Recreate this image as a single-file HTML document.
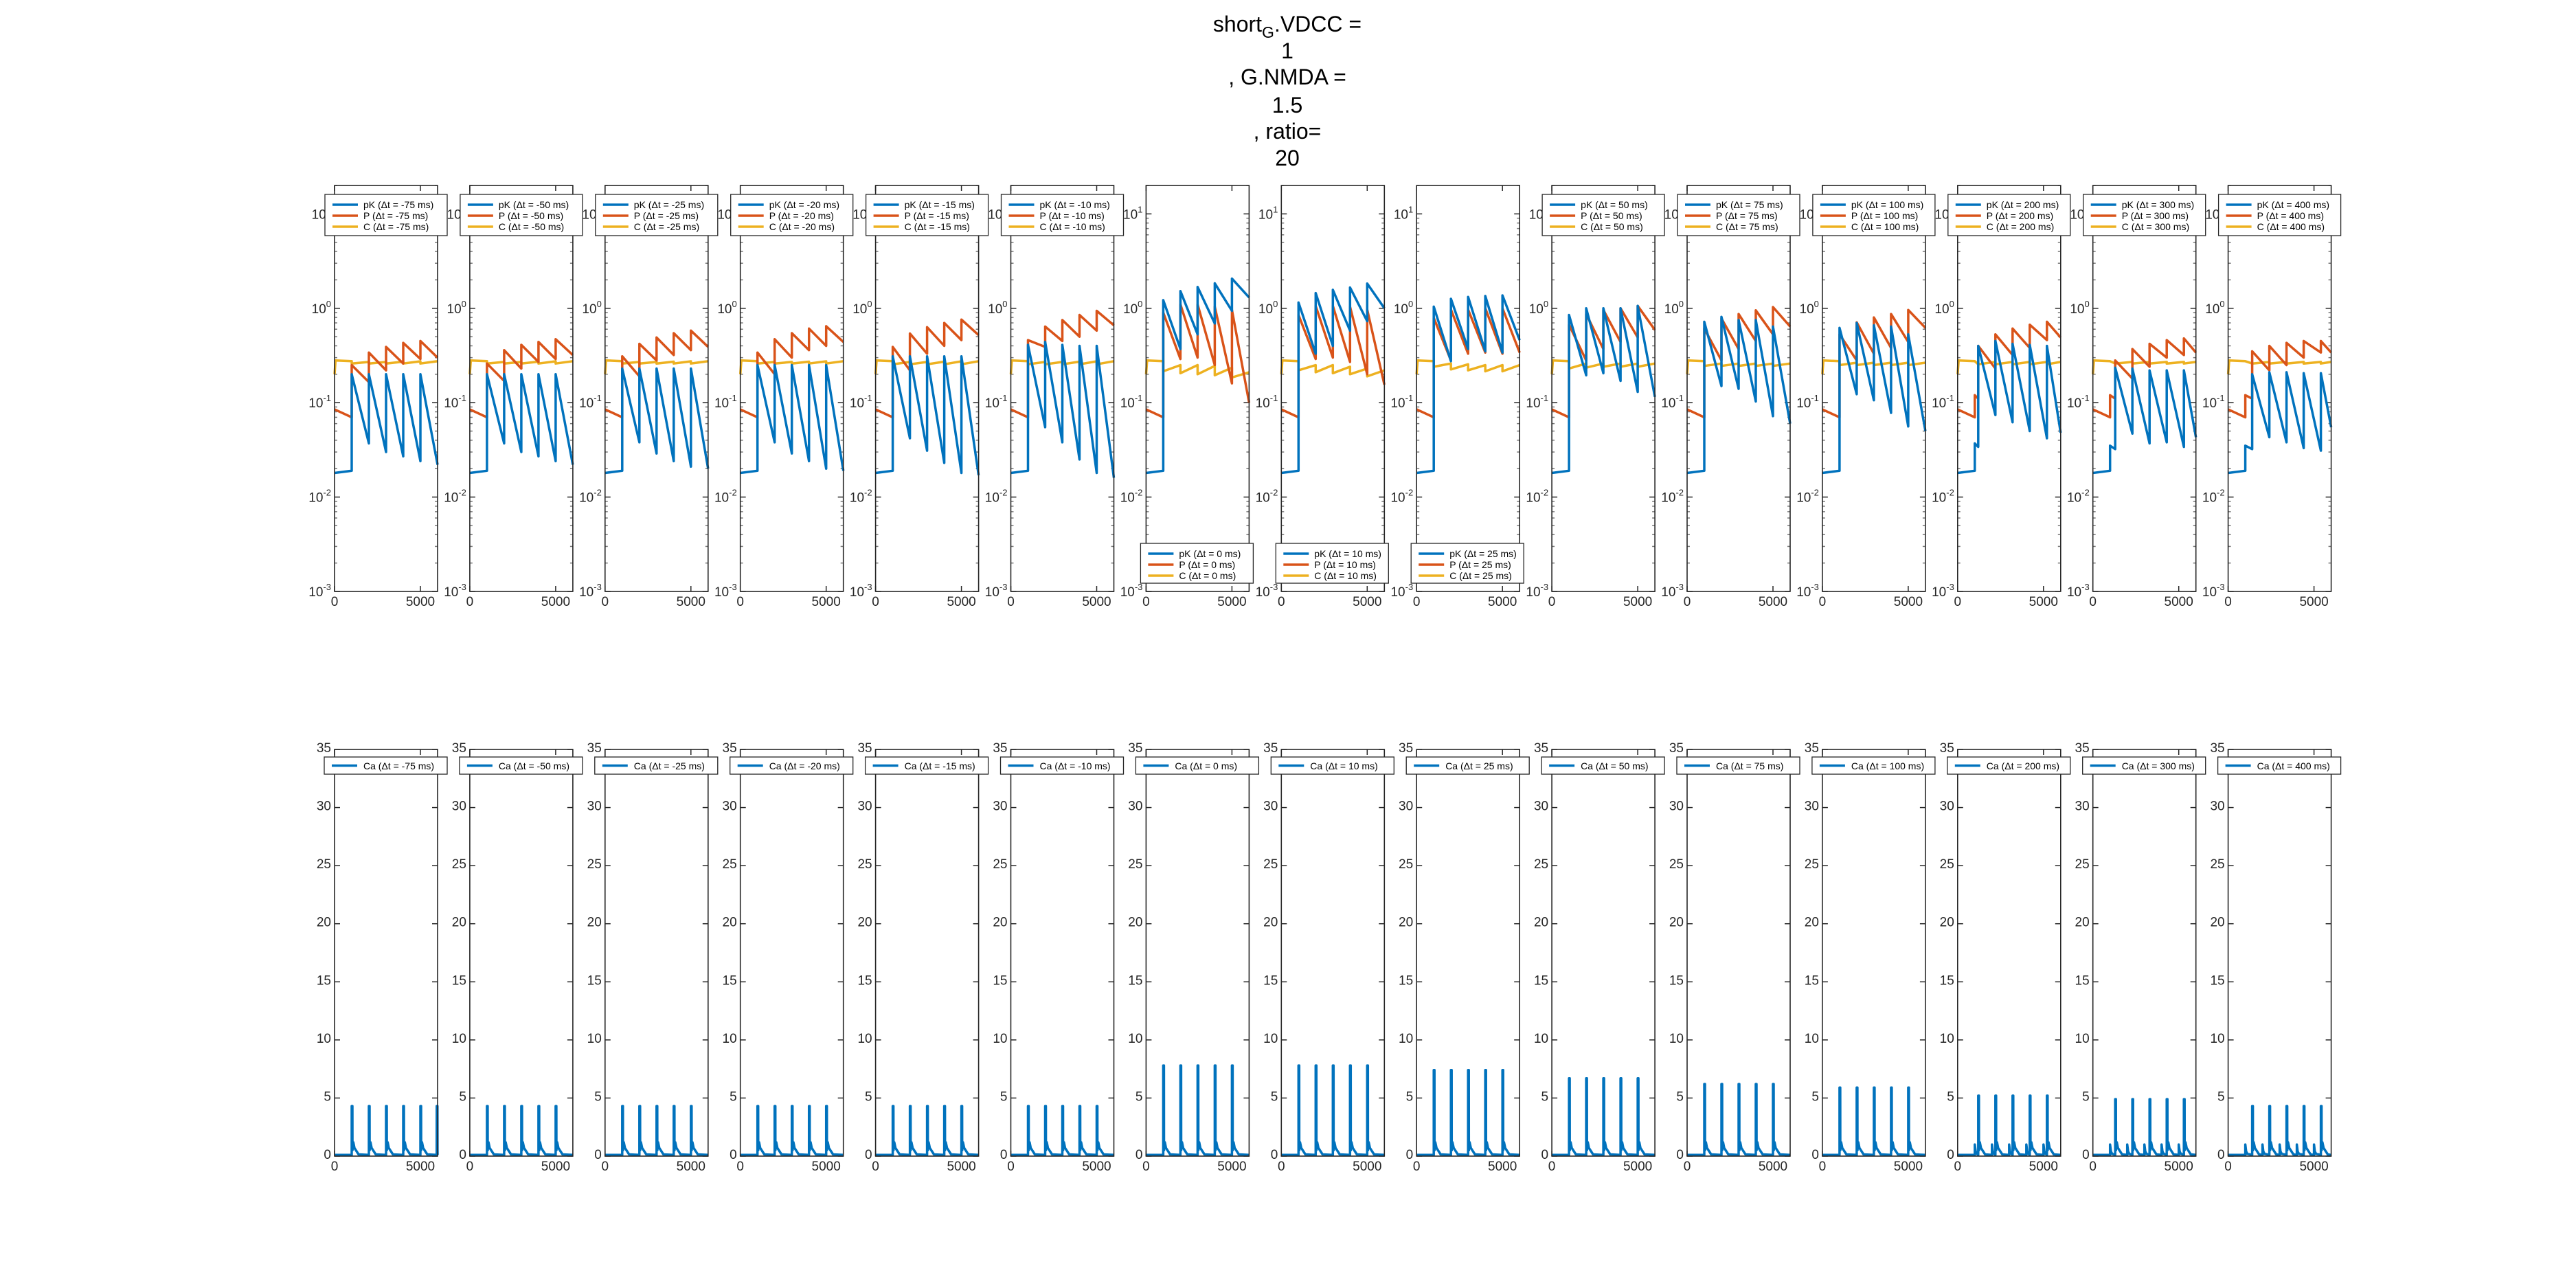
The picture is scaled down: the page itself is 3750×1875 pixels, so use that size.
<!DOCTYPE html>
<html><head><meta charset="utf-8"><style>
html,body{margin:0;padding:0;background:#fff}
svg{display:block;font-family:"Liberation Sans",Arial,sans-serif}
</style></head><body>
<svg id="fig" width="3750" height="1875" viewBox="0 0 3750 1875" xmlns="http://www.w3.org/2000/svg">
<rect width="3750" height="1875" fill="#fff"/>
<g font-size="32" fill="#000" text-anchor="middle">
<text x="1874" y="46">short<tspan font-size="23" dy="9">G</tspan><tspan dy="-9">.VDCC =</tspan></text>
<text x="1874" y="85">1</text>
<text x="1874" y="123">, G.NMDA =</text>
<text x="1874" y="164">1.5</text>
<text x="1874" y="202">, ratio=</text>
<text x="1874" y="241">20</text>
</g>
</svg>
<script>
const dts = [-75,-50,-25,-20,-15,-10,0,10,25,50,75,100,200,300,400];
const offsets = [0,0,0,0,0,0,0,0,0,0,0,0,200,300,400];
const pkPeak = [
 [0.2,0.2,0.2,0.2,0.2],[0.2,0.2,0.2,0.2,0.2],[0.23,0.23,0.23,0.23,0.23],[0.25,0.25,0.25,0.25,0.25],
 [0.31,0.31,0.31,0.31,0.31],[0.41,0.44,0.41,0.4,0.4],[1.22,1.52,1.68,1.84,2.06],[1.15,1.45,1.57,1.66,1.83],
 [1.04,1.26,1.32,1.35,1.37],[0.85,1.0,1.0,1.0,1.06],[0.72,0.81,0.75,0.75,0.64],[0.62,0.7,0.66,0.64,0.53],
 [0.4,0.45,0.42,0.41,0.4],[0.235,0.23,0.22,0.22,0.22],[0.2,0.21,0.21,0.205,0.205]];
const pkTrough = [
 [0.037,0.03,0.027,0.024,0.022],[0.037,0.03,0.027,0.024,0.022],[0.038,0.029,0.024,0.021,0.02],[0.038,0.029,0.024,0.02,0.019],
 [0.042,0.031,0.023,0.018,0.017],[0.055,0.038,0.025,0.018,0.016],[0.37,0.53,0.69,0.94,1.3],[0.33,0.4,0.58,0.73,1.0],
 [0.275,0.37,0.35,0.34,0.46],[0.195,0.205,0.17,0.13,0.115],[0.15,0.14,0.103,0.072,0.06],[0.123,0.106,0.078,0.056,0.05],
 [0.074,0.062,0.05,0.042,0.048],[0.047,0.037,0.038,0.034,0.043],[0.043,0.038,0.033,0.031,0.055]];
const pPeak = [
 [0.25,0.34,0.39,0.43,0.45],[0.26,0.36,0.41,0.44,0.47],[0.31,0.42,0.49,0.545,0.58],[0.34,0.47,0.545,0.61,0.645],
 [0.39,0.54,0.63,0.7,0.76],[0.46,0.64,0.75,0.85,0.94],[0.9,1.1,1.1,1.04,0.96],[0.85,1.06,1.06,1.04,0.97],
 [0.79,0.97,0.97,1.0,1.0],[0.67,0.87,0.96,1.0,1.06],[0.61,0.78,0.87,0.95,1.03],[0.53,0.71,0.8,0.87,0.96],
 [0.4,0.53,0.61,0.67,0.72],[0.28,0.37,0.42,0.46,0.48],[0.35,0.4,0.43,0.45,0.45]];
const pTrough = [
 [0.165,0.22,0.26,0.29,0.3],[0.17,0.23,0.27,0.29,0.32],[0.19,0.28,0.32,0.36,0.39],[0.2,0.3,0.36,0.4,0.44],
 [0.22,0.33,0.4,0.46,0.52],[0.39,0.45,0.5,0.58,0.66],[0.29,0.3,0.25,0.16,0.1],[0.29,0.3,0.27,0.2,0.155],
 [0.28,0.33,0.34,0.33,0.34],[0.28,0.37,0.44,0.49,0.59],[0.28,0.37,0.45,0.53,0.64],[0.28,0.33,0.38,0.44,0.62],
 [0.23,0.32,0.38,0.46,0.49],[0.18,0.24,0.3,0.32,0.34],[0.22,0.25,0.3,0.34,0.34]];
const cPost = [
 [0.26,0.26,0.26,0.26,0.26],[0.26,0.26,0.26,0.26,0.26],[0.26,0.26,0.26,0.26,0.26],[0.26,0.26,0.26,0.26,0.26],
 [0.255,0.255,0.255,0.255,0.255],[0.255,0.255,0.255,0.255,0.255],[0.215,0.205,0.2,0.195,0.185],[0.22,0.21,0.205,0.2,0.19],
 [0.24,0.225,0.22,0.215,0.215],[0.23,0.235,0.24,0.24,0.24],[0.245,0.245,0.245,0.245,0.245],[0.25,0.25,0.25,0.25,0.25],
 [0.255,0.255,0.255,0.255,0.255],[0.26,0.26,0.26,0.26,0.26],[0.26,0.26,0.26,0.26,0.26]];
const cEnd = [
 [0.27,0.27,0.272,0.274,0.275],[0.27,0.27,0.272,0.274,0.275],[0.27,0.27,0.272,0.274,0.275],[0.27,0.27,0.272,0.274,0.275],
 [0.27,0.27,0.272,0.274,0.275],[0.27,0.27,0.272,0.274,0.275],[0.25,0.25,0.245,0.235,0.21],[0.25,0.25,0.24,0.23,0.22],
 [0.26,0.255,0.25,0.25,0.25],[0.26,0.26,0.26,0.26,0.26],[0.26,0.26,0.26,0.26,0.26],[0.265,0.265,0.265,0.265,0.265],
 [0.27,0.27,0.27,0.27,0.27],[0.27,0.27,0.27,0.27,0.27],[0.27,0.27,0.27,0.27,0.27]];
const pkBump = [0,0,0,0,0,0,0,0,0,0,0,0,0.037,0.035,0.035];
const pBump = [0,0,0,0,0,0,0,0,0,0,0,0,0.12,0.12,0.12];
const caPeak = [4.3,4.3,4.3,4.3,4.3,4.3,7.8,7.8,7.4,6.7,6.2,5.9,5.2,4.9,4.3];
const caPreBump = [0,0,0,0,0,0,0,0,0,0,0,0,1.0,1.0,1.0];
const caExtraEnd = [true,false,false,false,false,false,false,false,false,false,false,false,false,false,false];
const pkStart = [0.018,0.019];
const pStart = [0.085,0.07];
const cStart = [0.2,0.28,0.275];
const logTicks = [-3,-2,-1,0,1];
const linTicks = [0,5,10,15,20,25,30,35];
const xTicks = [0,5000];

const NS = "http://www.w3.org/2000/svg";
const svg = document.getElementById('fig');
const X0 = 487, DX = 196.9, PW = 150;
const TT = 270, TB = 861, BT = 1091, BB = 1683;
const XMAX = 6000, LMIN = -3, LMAX = Math.log10(20), CMAX = 35;
const BLUE = "#0072BD", ORANGE = "#D95319", YELLOW = "#EDB120", AX = "#262626";

function el(tag, attrs, parent){
  const e = document.createElementNS(NS, tag);
  for (const k in attrs) e.setAttribute(k, attrs[k]);
  (parent || svg).appendChild(e);
  return e;
}
function xs(i, t){ return X0 + DX*i + PW * t / XMAX; }
function ysLog(v){ return TB - (Math.log10(v) - LMIN) / (LMAX - LMIN) * (TB - TT); }
function ysLin(v){ return BB - v / CMAX * (BB - BT); }

function cyclePts(i, pre, bump, peaks, troughs){
  const o = offsets[i];
  const pts = [[0, pre[0]], [1000, pre[1]]];
  if (o > 0) { pts.push([1000, bump]); pts.push([1000 + o, bump * 0.92]); }
  for (let k = 0; k < peaks.length; k++) {
    const s = 1000 + o + 1000*k;
    const e = Math.min(s + 1000, XMAX);
    pts.push([s, peaks[k]]); pts.push([e, troughs[k]]);
  }
  return pts;
}
function pathFrom(i, pts, yf){
  return pts.map((p, j) => (j ? 'L' : 'M') + xs(i, p[0]).toFixed(1) + ' ' + yf(p[1]).toFixed(1)).join(' ');
}

for (let i = 0; i < dts.length; i++) {
  const L = X0 + DX*i, R = L + PW;
  const dt = dts[i];
  const g = el('g', {});
  
  
  for (let d = -3; d <= 1; d++) {
    for (let m = 2; m <= 9; m++) {
      const v = m * Math.pow(10, d);
      if (Math.log10(v) > LMAX) continue;
      const y = ysLog(v);
      el('line', {x1: L, x2: L + 4, y1: y, y2: y, stroke: '#777', 'stroke-width': 1.5}, g);
      el('line', {x1: R - 4, x2: R, y1: y, y2: y, stroke: '#777', 'stroke-width': 1.5}, g);
    }
  }
  for (const d of logTicks) {
    const y = ysLog(Math.pow(10, d));
    el('line', {x1: L, x2: L + 8, y1: y, y2: y, stroke: AX, 'stroke-width': 1.5}, g);
    el('line', {x1: R - 8, x2: R, y1: y, y2: y, stroke: AX, 'stroke-width': 1.5}, g);
    const t = el('text', {x: L - 5, y: y + 7, 'font-size': 19, 'text-anchor': 'end', fill: AX}, g);
    
    
    t.textContent = '10';
    const sup = el('tspan', {'font-size': 13, dy: -9}, t);
    sup.textContent = String(d);
  }
  for (const xv of xTicks) {
    const x = xs(i, xv);
    el('line', {x1: x, x2: x, y1: TB, y2: TB - 8, stroke: AX, 'stroke-width': 1.5}, g);
    el('line', {x1: x, x2: x, y1: TT, y2: TT + 8, stroke: AX, 'stroke-width': 1.5}, g);
    const t = el('text', {x: x, y: TB + 21, 'font-size': 19, 'text-anchor': 'middle', fill: AX}, g);
    
    
    t.textContent = String(xv);
  }
  const cPts = [[0, cStart[0]], [60, cStart[1]], [1000, cStart[2]]];
  for (let k = 0; k < 5; k++) {
    const s = 1000 + offsets[i] + 1000*k;
    cPts.push([s, cPost[i][k]]); cPts.push([Math.min(s + 1000, XMAX), cEnd[i][k]]);
  }
  const pkPts = cyclePts(i, pkStart, pkBump[i], pkPeak[i], pkTrough[i]);
  const pPts = cyclePts(i, pStart, pBump[i], pPeak[i], pTrough[i]);
  const cl = el('path', {d: pathFrom(i, cPts, ysLog), fill: 'none', stroke: YELLOW, 'stroke-width': 3.5, 'stroke-linejoin': 'round'}, g);
  
  
  const pl = el('path', {d: pathFrom(i, pPts, ysLog), fill: 'none', stroke: ORANGE, 'stroke-width': 3.5, 'stroke-linejoin': 'round'}, g);
  
  
  const kl = el('path', {d: pathFrom(i, pkPts, ysLog), fill: 'none', stroke: BLUE, 'stroke-width': 3.5, 'stroke-linejoin': 'round'}, g);
  
  
  el('rect', {x: L, y: TT, width: PW, height: TB - TT, fill: 'none', stroke: AX, 'stroke-width': 1.6}, g);
  const mid = (i >= 6 && i <= 8);
  const lg = el('g', {}, g);
  
  
  const bx = mid ? L - 8 : L - 14, bw = mid ? 164 : 178;
  const by = mid ? 791 : 283, bh = mid ? 58 : 60;
  el('rect', {x: bx, y: by, width: bw, height: bh, fill: '#fff', stroke: AX, 'stroke-width': 1.3}, lg);
  const labels = ['pK', 'P', 'C'], cols = [BLUE, ORANGE, YELLOW];
  for (let r = 0; r < 3; r++) {
    const ry = by + 15 + r*16;
    const sx = mid ? L + 3 : L - 3;
    const en = el('g', {}, lg);
    
    
    el('line', {x1: sx, x2: sx + 37, y1: ry, y2: ry, stroke: cols[r], 'stroke-width': 3.5}, en);
    const t = el('text', {x: sx + 45, y: ry + 5, 'font-size': 14, fill: '#000'}, en);
    t.textContent = labels[r] + ' (\u0394t = ' + dt + ' ms)';
  }

  const gb = el('g', {});
  
  
  for (const v of linTicks) {
    const y = ysLin(v);
    el('line', {x1: L, x2: L + 8, y1: y, y2: y, stroke: AX, 'stroke-width': 1.5}, gb);
    el('line', {x1: R - 8, x2: R, y1: y, y2: y, stroke: AX, 'stroke-width': 1.5}, gb);
    const t = el('text', {x: L - 5, y: y + 4, 'font-size': 19, 'text-anchor': 'end', fill: AX}, gb);
    
    
    t.textContent = String(v);
  }
  for (const xv of xTicks) {
    const x = xs(i, xv);
    el('line', {x1: x, x2: x, y1: BB, y2: BB - 8, stroke: AX, 'stroke-width': 1.5}, gb);
    el('line', {x1: x, x2: x, y1: BT, y2: BT + 8, stroke: AX, 'stroke-width': 1.5}, gb);
    const t = el('text', {x: x, y: BB + 21, 'font-size': 19, 'text-anchor': 'middle', fill: AX}, gb);
    
    
    t.textContent = String(xv);
  }
  const caPts = [[0, 0.1]];
  const spikes = [];
  for (let k = 0; k < 5; k++) spikes.push(1000 + offsets[i] + 1000*k);
  if (caExtraEnd[i]) spikes.push(5950);
  for (let k = 0; k < spikes.length; k++) {
    const s = spikes[k];
    if (caPreBump[i] > 0) {
      const b = s - offsets[i];
      caPts.push([b, 0.1], [b, caPreBump[i]], [b + 50, 0.4], [b + 120, 0.2]);
    }
    const pk = caPeak[i];
    caPts.push([s - 1, 0.1], [s, pk], [s + 40, pk], [s + 45, 0.5], [s + 90, 1.2], [s + 160, 0.7], [s + 400, 0.15]);
  }
  caPts.push([XMAX, 0.1]);
  const caPath = caPts.filter(p => p[0] <= XMAX).sort((a, b) => a[0] - b[0]);
  const cal = el('path', {d: pathFrom(i, caPath, ysLin), fill: 'none', stroke: BLUE, 'stroke-width': 3.5, 'stroke-linejoin': 'round'}, gb);
  
  
  el('rect', {x: L, y: BT, width: PW, height: BB - BT, fill: 'none', stroke: AX, 'stroke-width': 1.6}, gb);
  const lb = el('g', {}, gb);
  
  
  el('rect', {x: L - 15, y: 1102, width: 179, height: 25, fill: '#fff', stroke: AX, 'stroke-width': 1.3}, lb);
  el('line', {x1: L - 4, x2: L + 33, y1: 1114.5, y2: 1114.5, stroke: BLUE, 'stroke-width': 3.5}, lb);
  const ct = el('text', {x: L + 42, y: 1120, 'font-size': 14, fill: '#000'}, lb);
  ct.textContent = 'Ca (\u0394t = ' + dt + ' ms)';
}
</script>
</body></html>
